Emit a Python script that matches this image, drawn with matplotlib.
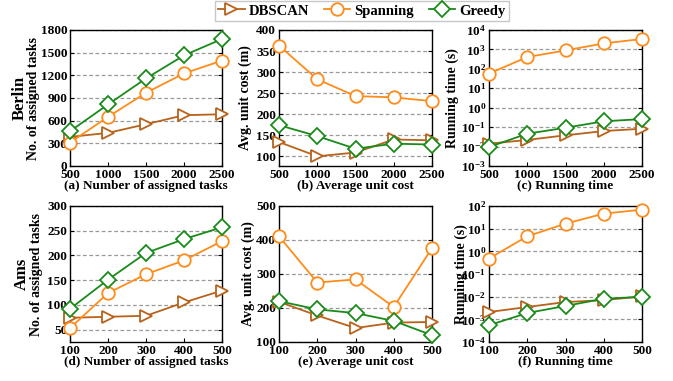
import matplotlib
matplotlib.use("Agg")
import matplotlib.pyplot as plt
from matplotlib.lines import Line2D

plt.rcParams['font.family'] = ['Liberation Serif', 'DejaVu Serif']
plt.rcParams['font.weight'] = 'bold'
plt.rcParams['mathtext.fontset'] = 'custom'
plt.rcParams['mathtext.rm'] = 'Liberation Serif:bold'
plt.rcParams['mathtext.bf'] = 'Liberation Serif:bold'
plt.rcParams['mathtext.it'] = 'Liberation Serif:bold'
plt.rcParams['mathtext.default'] = 'bf'

# ---- data ----
x_berlin = [500, 1000, 1500, 2000, 2500]
x_ams = [100, 200, 300, 400, 500]
series_names = ["DBSCAN", "Spanning", "Greedy"]

berlin_tasks_dbscan = [385, 438, 553, 672, 685]
berlin_tasks_spanning = [310, 650, 969, 1225, 1395]
berlin_tasks_greedy = [460, 814, 1159, 1464, 1681]

berlin_cost_dbscan = [134, 100, 109, 140, 138]
berlin_cost_spanning = [363, 283, 243, 240, 231]
berlin_cost_greedy = [174, 148, 118, 130, 128]

berlin_time_dbscan = [0.014, 0.022, 0.038, 0.063, 0.083]
berlin_time_spanning = [57, 405, 890, 2040, 3450]
berlin_time_greedy = [0.0095, 0.046, 0.093, 0.2, 0.26]

ams_tasks_dbscan = [74, 76, 78, 105, 129]
ams_tasks_spanning = [53, 124, 162, 190, 229]
ams_tasks_greedy = [92, 151, 205, 233, 257]

ams_cost_dbscan = [218, 178, 141, 157, 159]
ams_cost_spanning = [411, 275, 284, 203, 376]
ams_cost_greedy = [220, 196, 185, 162, 120]

ams_time_dbscan = [0.0021, 0.0035, 0.0058, 0.007, 0.0103]
ams_time_spanning = [0.48, 4.6, 16.6, 46, 69]
ams_time_greedy = [0.00055, 0.0019, 0.0039, 0.0081, 0.0098]

captions = ["(a) Number of assigned tasks", "(b) Average unit cost", "(c) Running time",
            "(d) Number of assigned tasks", "(e) Average unit cost", "(f) Running time"]

colors = ['#b8621b', '#ff8c1a', '#1a8a1a']
markers = ['>', 'o', 'D']
msizes = [9, 9, 8]

W, H = 673, 381
fig = plt.figure(figsize=(W / 100, H / 100), dpi=100)

def add_ax(l, r, t, b):
    return fig.add_axes([l / W, (H - b) / H, (r - l) / W, (b - t) / H])

lefts = [70, 279, 489]
rights = [222, 432, 642]
rows = [(30, 166), (206, 342)]

axes = []
for (t, b) in rows:
    for l, r in zip(lefts, rights):
        axes.append(add_ax(l, r, t, b))

data = [
    (x_berlin, [berlin_tasks_dbscan, berlin_tasks_spanning, berlin_tasks_greedy]),
    (x_berlin, [berlin_cost_dbscan, berlin_cost_spanning, berlin_cost_greedy]),
    (x_berlin, [berlin_time_dbscan, berlin_time_spanning, berlin_time_greedy]),
    (x_ams, [ams_tasks_dbscan, ams_tasks_spanning, ams_tasks_greedy]),
    (x_ams, [ams_cost_dbscan, ams_cost_spanning, ams_cost_greedy]),
    (x_ams, [ams_time_dbscan, ams_time_spanning, ams_time_greedy]),
]

for i, (ax, (xs, ys)) in enumerate(zip(axes, data)):
    for k, y in enumerate(ys):
        ax.plot(xs, y, color=colors[k], marker=markers[k], markersize=msizes[k],
                markerfacecolor='white', markeredgewidth=1.3, linewidth=1.3,
                clip_on=False, zorder=3)
    ax.set_xlim(xs[0], xs[-1])
    ax.set_xticks(xs)
    ax.grid(axis='y', linestyle=(0, (3, 2)), color='#999999', linewidth=0.9)
    ax.set_axisbelow(True)
    ax.tick_params(direction='in', labelsize=9.5, length=3, right=True, pad=2)
    for lab in ax.get_xticklabels() + ax.get_yticklabels():
        lab.set_fontweight('bold')
    for s in ax.spines.values():
        s.set_linewidth(1.0)

# panel a
axes[0].set_ylim(0, 1800)
axes[0].set_yticks([0, 300, 600, 900, 1200, 1500, 1800])
# panel b
axes[1].set_ylim(77, 400)
axes[1].set_yticks([100, 150, 200, 250, 300, 350, 400])
# panel c
axes[2].set_yscale('log')
axes[2].set_ylim(1e-3, 1e4)
axes[2].set_yticks([10.0 ** e for e in range(-3, 5)])
axes[2].minorticks_off()
# panel d
axes[3].set_ylim(25, 300)
axes[3].set_yticks([50, 100, 150, 200, 250, 300])
# panel e
axes[4].set_ylim(100, 500)
axes[4].set_yticks([100, 200, 300, 400, 500])
# panel f
axes[5].set_yscale('log')
axes[5].set_ylim(1e-4, 1e2)
axes[5].set_yticks([10.0 ** e for e in range(-4, 3)])
axes[5].minorticks_off()

for ax in (axes[2], axes[5]):
    ax.tick_params(axis='y', labelsize=9.5)

ylabels = ["No. of assigned tasks", "Avg. unit cost (m)", "Running time (s)",
           "No. of assigned tasks", "Avg. unit cost (m)", "Running time (s)"]
ylx = [-0.197, -0.176, -0.196, -0.178, -0.157, -0.137]
for ax, lab, xx in zip(axes, ylabels, ylx):
    ax.set_ylabel(lab, fontsize=10, fontweight='bold')
    ax.yaxis.set_label_coords(xx, 0.5)

axes[0].text(-0.33, 0.5, "Berlin", transform=axes[0].transAxes, rotation=90,
             ha='center', va='center', fontsize=12, fontweight='bold')
axes[3].text(-0.315, 0.5, "Ams", transform=axes[3].transAxes, rotation=90,
             ha='center', va='center', fontsize=12, fontweight='bold')

for ax, cap in zip(axes, captions):
    ax.text(0.5, -0.145, cap, transform=ax.transAxes, ha='center', va='center',
            fontsize=9.5, fontweight='bold')

handles = [Line2D([], [], color=colors[k], marker=markers[k], markersize=msizes[k],
                  markerfacecolor='white', markeredgewidth=1.3, linewidth=1.3)
           for k in range(3)]
leg = fig.legend(handles, series_names, loc='upper center', ncol=3,
                 bbox_to_anchor=(362 / W, 1.0), frameon=True, fancybox=False,
                 prop={'weight': 'bold', 'size': 10.5}, handlelength=1.8,
                 columnspacing=1.0, handletextpad=0.3, borderpad=0.25,
                 borderaxespad=0.05)
leg.get_frame().set_edgecolor('#bbbbbb')
leg.get_frame().set_linewidth(1.0)

fig.savefig("out.png", dpi=100)
